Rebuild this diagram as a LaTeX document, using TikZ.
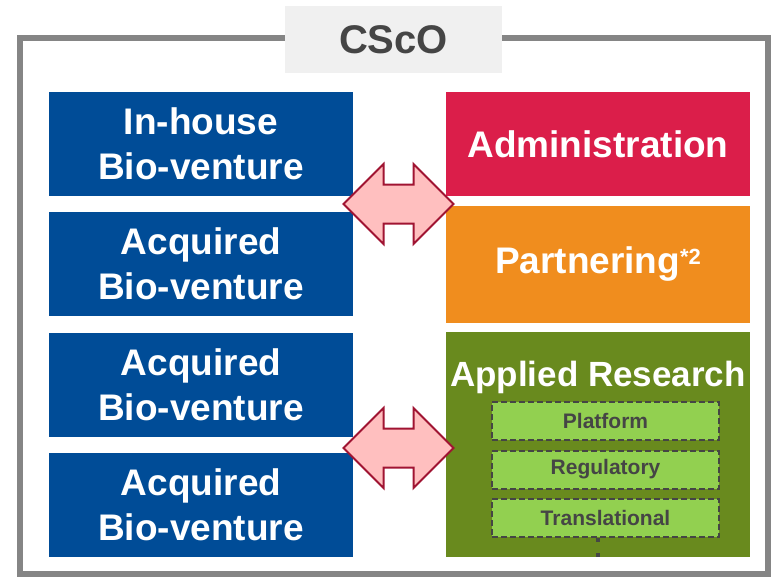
\documentclass[tikz,border=0pt]{standalone}
\usepackage{fontspec}
\setmainfont{Liberation Sans}
\usepackage{xcolor}
\usepackage{tikz}
\usetikzlibrary{calc}
\definecolor{bvblue}{HTML}{004C97}
\definecolor{admred}{HTML}{DB1E4A}
\definecolor{ptorange}{HTML}{F08D1E}
\definecolor{argreen}{HTML}{698A1E}
\definecolor{sublime}{HTML}{92D050}
\definecolor{subtext}{HTML}{454545}
\definecolor{framegray}{HTML}{858585}
\definecolor{arrpink}{HTML}{FFBFBF}
\definecolor{arrred}{HTML}{A01432}

\begin{document}
\begin{tikzpicture}[x=1pt, y=-1pt,
    unit/.style={minimum width=304pt, minimum height=104pt, inner sep=0pt, text=white,
      align=center, font=\bfseries\fontsize{37}{45}\selectfont},
    bv/.style={unit, fill=bvblue},
    subbox/.style={fill=sublime, draw=subtext, line width=2pt, dash pattern=on 6pt off 3pt,
      minimum width=227pt, minimum height=38pt, inner sep=0pt, text=subtext,
      font=\bfseries\fontsize{21}{21}\selectfont},
    dblarrow/.style={fill=arrpink, draw=arrred, line width=2pt, line join=miter}]
    \useasboundingbox (0,0) rectangle (773,576);
    % frame and title
    \draw[framegray, line width=6pt] (20,38) rectangle (768,574);
    \node[fill=black!6, minimum width=217pt, minimum height=67pt, inner sep=0pt,
      text=subtext, font=\bfseries\fontsize{40}{40}\selectfont] (csco) at (393.5,39.5) {CScO};
    % bio-ventures
    \node[bv] (bv1) at (201,144) {In-house\\Bio-venture};
    \node[bv] (bv2) at (201,264) {Acquired\\Bio-venture};
    \node[bv] (bv3) at (201,385) {Acquired\\Bio-venture};
    \node[bv] (bv4) at (201,505) {Acquired\\Bio-venture};
    % functions
    \node[unit, fill=admred] (adm) at (598,144) {Administration};
    \node[unit, fill=ptorange, minimum height=117pt] (pt) at (598,264.5)
      {Partnering\smash{\raisebox{9pt}{\fontsize{22}{22}\selectfont *2}}};
    \node[unit, fill=argreen, minimum height=225pt] (ar) at (598,444.5) {};
    \node[text=white, inner sep=0pt, font=\bfseries\fontsize{35}{35}\selectfont] (artitle)
      at (598,377) {Applied Research};
    \node[subbox] (plat) at (605.5,421) {Platform};
    \node[subbox] (reg) at (605.5,469.5) {Regulatory};
    \node[subbox] (trans) at (605.5,518) {Translational};
    \coordinate (dotstart) at (598,538);
    \coordinate (dotend) at (dotstart |- ar.south);
    \draw[subtext, line width=4pt, dash pattern=on 4pt off 11pt] (dotstart) -- (dotend);
    % links
    \coordinate (arrA) at (398.5,204);
    \coordinate (arrB) at (398.5,448);
    \foreach \c in {arrA, arrB}
      \draw[dblarrow, shift={(\c)}] (-55,0) -- (-15,-40) -- (-15,-19.5) -- (15,-19.5)
        -- (15,-40) -- (55,0) -- (15,40) -- (15,19.5) -- (-15,19.5) -- (-15,40) -- cycle;
\end{tikzpicture}
\end{document}
